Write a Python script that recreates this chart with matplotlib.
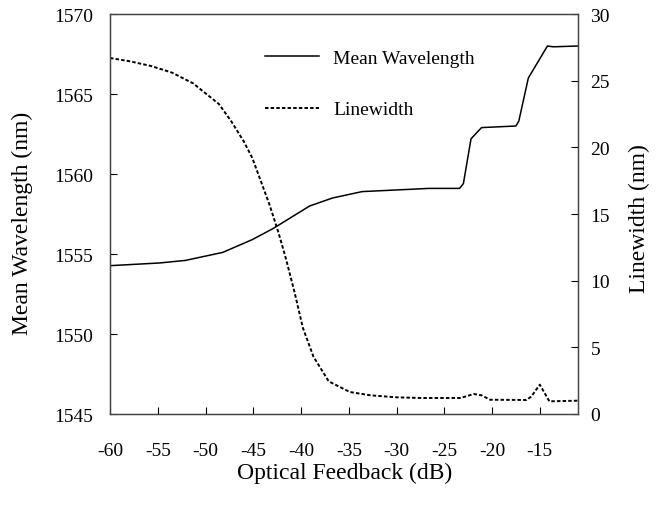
import matplotlib.pyplot as plt

plt.rcParams['font.family'] = ['Liberation Serif', 'DejaVu Serif']
plt.rcParams['axes.unicode_minus'] = False

# optical feedback level (dB) and mean wavelength (nm)
fb_wl = [-60, -54.8, -52.1, -48.2, -45.1, -42.9, -39.1, -36.7, -33.6, -30.1,
         -26.6, -23.4, -23.0, -22.2, -21.1, -17.5, -17.2, -16.2, -15.6, -14.2,
         -13.6, -11.0]
mean_wl = [1554.27, 1554.44, 1554.6, 1555.1, 1555.9, 1556.6, 1558.0, 1558.5,
           1558.9, 1559.0, 1559.1, 1559.1, 1559.4, 1562.2, 1562.9, 1563.0,
           1563.3, 1566.0, 1566.6, 1568.0, 1567.95, 1568.0]

# optical feedback level (dB) and linewidth (nm)
fb_lw = [-60, -57.9, -55.7, -53.5, -51.3, -48.6, -47.3, -46.0, -45.1, -44.2,
         -43.3, -42.4, -41.6, -40.7, -39.8, -38.7, -37.1, -34.9, -32.7, -30.0,
         -27.4, -23.3, -21.9, -21.1, -20.2, -16.4, -15.9, -15.0, -14.0, -11.0]
linewidth = [26.7, 26.45, 26.1, 25.6, 24.8, 23.25, 21.95, 20.45, 19.2, 17.45,
             15.7, 13.7, 11.7, 9.2, 6.45, 4.3, 2.45, 1.65, 1.4, 1.25,
             1.2, 1.2, 1.5, 1.4, 1.07, 1.05, 1.3, 2.2, 0.95, 1.0]

x_ticks = [-60, -55, -50, -45, -40, -35, -30, -25, -20, -15]
wl_ticks = [1545, 1550, 1555, 1560, 1565, 1570]
lw_ticks = [0, 5, 10, 15, 20, 25, 30]

fig = plt.figure(figsize=(6.6, 5.06), dpi=100)
ax = fig.add_axes([110 / 660, 91 / 506, 468 / 660, 400 / 506])
ax2 = ax.twinx()

l1, = ax.plot(fb_wl, mean_wl, color='black', lw=1.1, label='Mean Wavelength')
l2, = ax2.plot(fb_lw, linewidth, color='black', lw=1.4, ls=(0, (1.8, 1.1)),
               label='Linewidth')

ax.set_xlim(-60, -11)
ax.set_ylim(1545, 1570)
ax2.set_ylim(0, 30)
ax.set_xticks(x_ticks)
ax.set_yticks(wl_ticks)
ax2.set_yticks(lw_ticks)

ax.tick_params(axis='x', direction='in', length=5, width=0.8, pad=20,
               labelsize=14)
ax.tick_params(axis='y', direction='in', length=5, width=0.8, pad=12,
               labelsize=14, right=False)
ax2.tick_params(axis='y', direction='in', length=5, width=0.8, pad=9,
                labelsize=14)

for a in (ax, ax2):
    for s in a.spines.values():
        s.set_linewidth(0.9)
        s.set_color('#444444')

ax.set_xlabel('Optical Feedback (dB)', fontsize=17)
ax.set_ylabel('Mean Wavelength (nm)', fontsize=17)
ax2.set_ylabel('Linewidth (nm)', fontsize=17)
ax.xaxis.set_label_coords(0.502, -0.12)
ax.yaxis.set_label_coords(-0.165, 0.48)
ax2.yaxis.set_label_coords(1.109, 0.49)

ax2.legend(handles=[l1, l2], loc='upper left', bbox_to_anchor=(0.331, 0.912),
           frameon=False, fontsize=14, handlelength=2.8, handletextpad=0.7,
           labelspacing=1.75, borderpad=0, borderaxespad=0)

fig.savefig('out.png', dpi=100)
